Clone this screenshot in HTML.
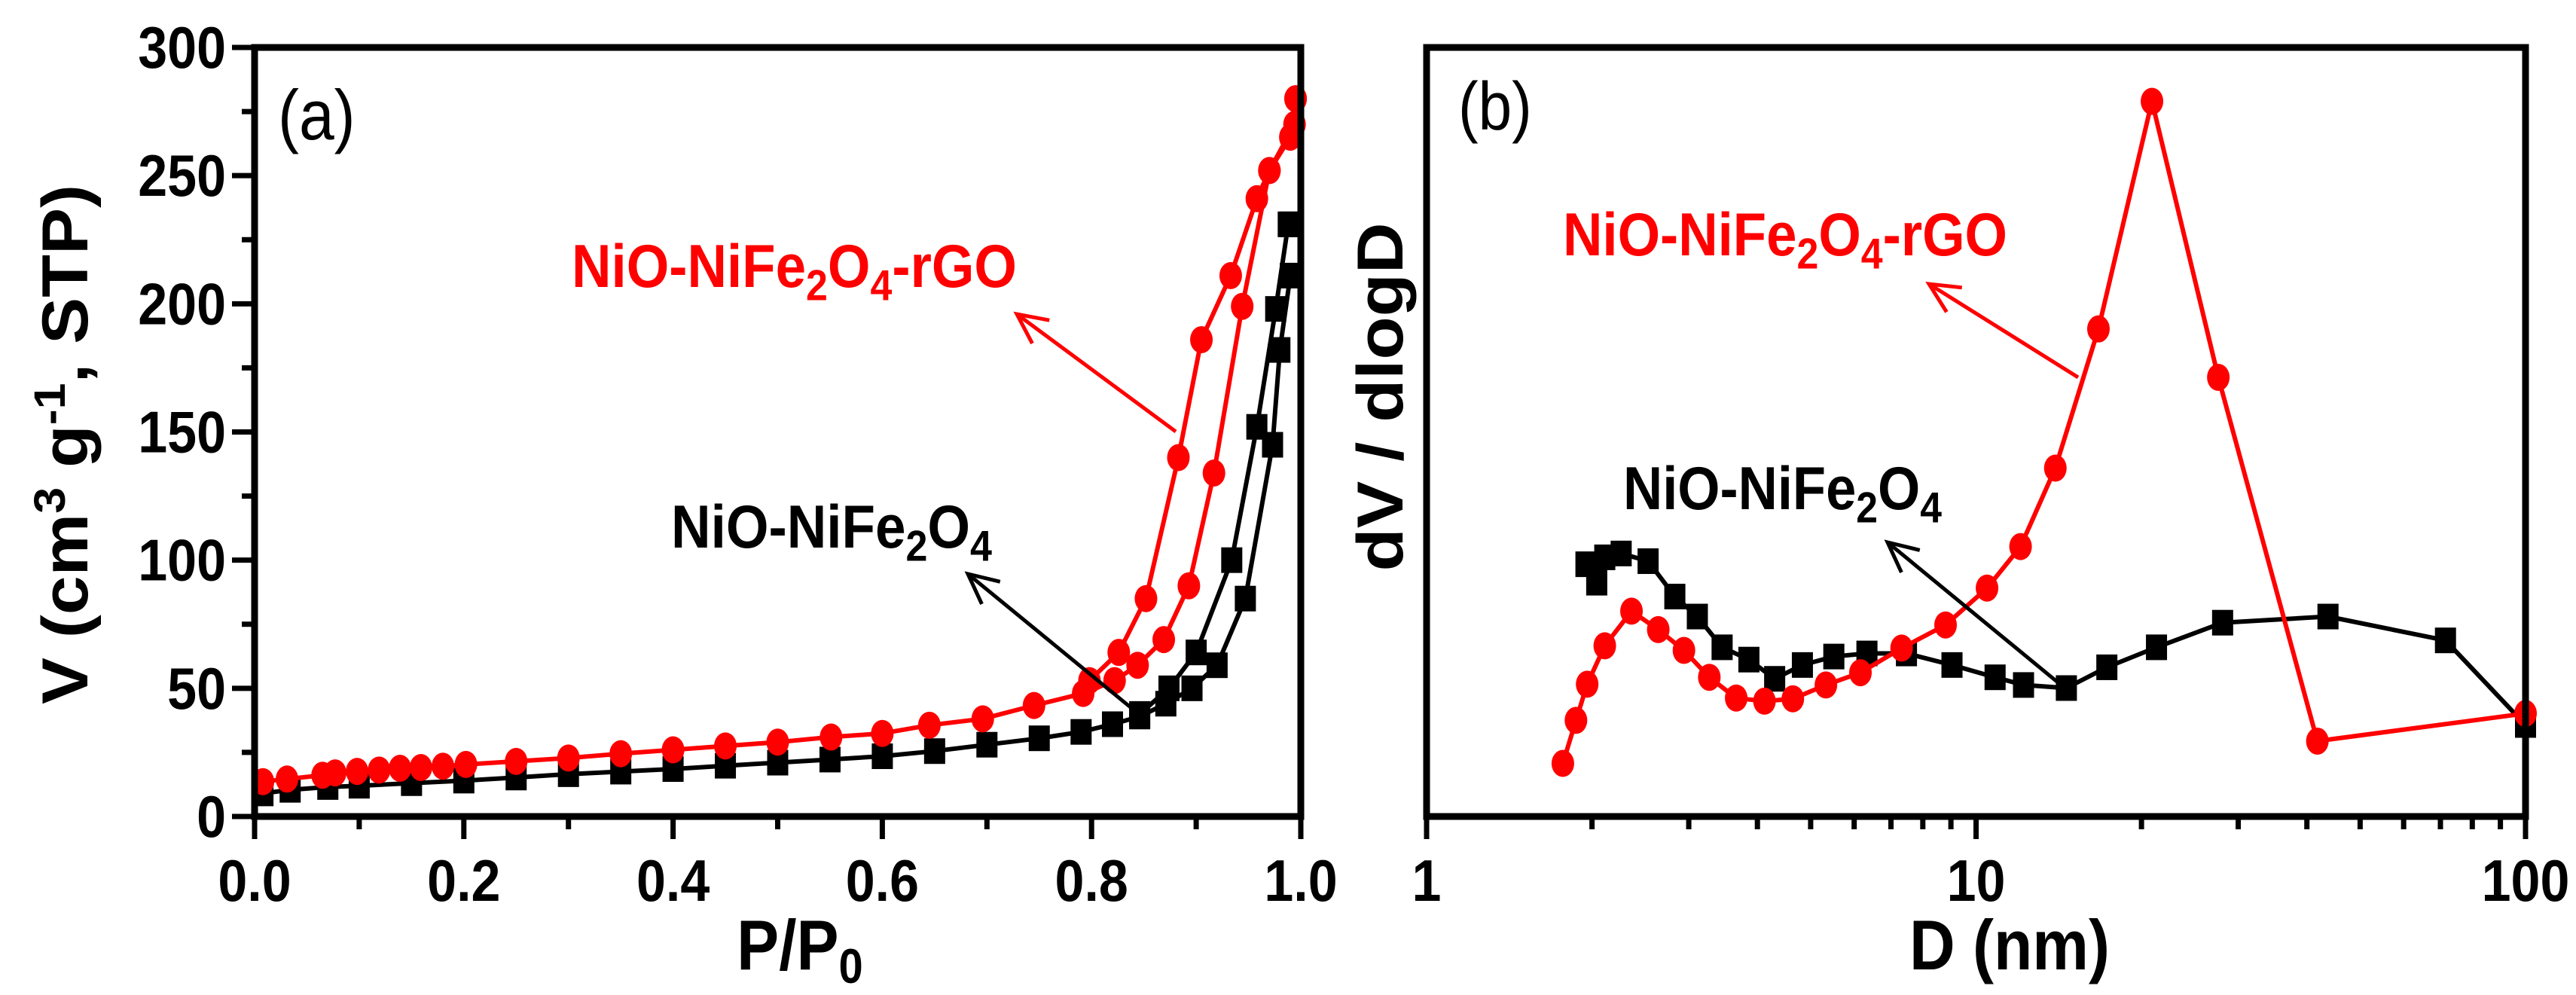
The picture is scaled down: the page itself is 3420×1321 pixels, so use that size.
<!DOCTYPE html>
<html><head><meta charset="utf-8"><style>
html,body{margin:0;padding:0;background:#fff}
svg{display:block}
text{font-family:"Liberation Sans",Arial,sans-serif}
</style></head><body>
<svg id="fig" xmlns="http://www.w3.org/2000/svg" width="3420" height="1321" viewBox="0 0 3420 1321">
<rect width="3420" height="1321" fill="#fff"/>
<g id="pa"></g>
<g id="pb"></g>
</svg>
<script>
// Panel (a) data: P/P0 and V
const aRedAdsP = [0.008,0.031,0.065,0.077,0.098,0.119,0.139,0.159,0.180,0.202,0.25,0.30,0.35,0.40,0.45,0.50,0.551,0.60,0.645,0.696,0.745,0.792,0.822,0.844,0.869,0.893,0.917,0.944,0.970,0.990,0.995];
const aRedAdsV = [13.6,14.6,16.1,17,17.6,18.1,18.8,19.1,19.6,20.3,21.5,22.8,24.5,26,27.5,29,31,32.4,35.6,38.1,43.3,48,53,59,69,90,134,199,252,265,280];
const aRedDesP = [0.995,0.994,0.970,0.958,0.933,0.905,0.883,0.852,0.826,0.798];
const aRedDesV = [280,270,252,241,211,186,140,85,64,53];
const aBlkAdsP = [0.008,0.034,0.07,0.1,0.15,0.2,0.25,0.3,0.35,0.4,0.45,0.5,0.55,0.6,0.65,0.7,0.75,0.79,0.82,0.846,0.871,0.896,0.92,0.947,0.973,0.98,0.99];
const aBlkAdsV = [9,10.4,11.5,12,13,14,15.2,16.5,17.5,18.5,19.8,21,22.2,23.5,25.5,28,30.5,33,36,39,44,50,59,85,145,182,211];
const aBlkDesP = [0.99,0.988,0.976,0.958,0.934,0.9,0.874,0.846];
const aBlkDesV = [231,231,198,152,100,64,50,40];
const aXTicks = ["0.0","0.2","0.4","0.6","0.8","1.0"];
const aYTicks = ["0","50","100","150","200","250","300"];
// Panel (b) data: D (nm) and dV/dlogD (arb.)
const bRedD = [1.77,1.87,1.96,2.11,2.36,2.64,2.94,3.27,3.66,4.12,4.64,5.33,6.16,7.32,8.80,10.47,12.05,13.94,16.7,20.9,27.6,41.8,100];
const bRedV = [6.9,12.5,17.2,22.2,26.7,24.3,21.6,18.1,15.4,15.0,15.3,17.1,18.7,21.9,24.9,29.7,35.1,45.3,63.4,93.0,57.1,9.8,13.4];
const bBlkD = [1.95,2.04,2.11,2.26,2.53,2.83,3.11,3.45,3.86,4.30,4.83,5.51,6.33,7.47,9.04,10.83,12.2,14.6,17.3,21.3,28.1,43.7,71.5,100];
const bBlkV = [32.8,30.4,33.7,34.2,33.2,28.6,26.0,22.0,20.4,17.9,19.7,20.8,21.2,21.2,19.7,18.1,17.1,16.7,19.4,22.0,25.2,26.0,22.9,11.9];
const bXTicks = ["1","10","100"];

const NS="http://www.w3.org/2000/svg";
function mk(parent,tag,attrs){const e=document.createElementNS(NS,tag);for(const k in attrs)e.setAttribute(k,attrs[k]);parent.appendChild(e);return e;}

const A={x0:338,x1:1727,y0:1084,y1:63};
const ax=p=>A.x0+(A.x1-A.x0)*p;
const ay=v=>A.y0-(A.y0-A.y1)*v/300;
const B={x0:1894,x1:3353,y0:1084,y1:63};
const bx=d=>B.x0+(B.x1-B.x0)*Math.log10(d)/2;
const by=v=>B.y0-(B.y0-B.y1)*v/100;

const pa=document.getElementById('pa');
const pb=document.getElementById('pb');

function series(g,xs,ys,fx,fy,color,shape,name){
  const pts=xs.map((x,i)=>fx(x).toFixed(1)+","+fy(ys[i]).toFixed(1)).join(" ");
  const ln=mk(g,'polyline',{points:pts,fill:'none',stroke:color,'stroke-width':6,'stroke-linejoin':'round'});
  
  
  xs.forEach((x,i)=>{
    let m;
    if(shape==='c'){m=mk(g,'ellipse',{cx:fx(x),cy:fy(ys[i]),rx:15,ry:18,fill:color});}
    else{m=mk(g,'rect',{x:fx(x)-14,y:fy(ys[i])-17,width:28,height:34,fill:color});}
    
    
  });
}

series(pa,aBlkAdsP,aBlkAdsV,ax,ay,'#000','s','black-adsorption');
series(pa,aBlkDesP,aBlkDesV,ax,ay,'#000','s','black-desorption');
series(pa,aRedAdsP,aRedAdsV,ax,ay,'#ff0000','c','red-adsorption');
series(pa,aRedDesP,aRedDesV,ax,ay,'#ff0000','c','red-desorption');
series(pb,bBlkD,bBlkV,bx,by,'#000','s','black-pore-distribution');
series(pb,bRedD,bRedV,bx,by,'#ff0000','c','red-pore-distribution');

const fa=mk(pa,'rect',{x:A.x0,y:A.y1,width:A.x1-A.x0,height:A.y0-A.y1,fill:'none',stroke:'#000','stroke-width':9});


const fb=mk(pb,'rect',{x:B.x0,y:B.y1,width:B.x1-B.x0,height:B.y0-B.y1,fill:'none',stroke:'#000','stroke-width':9});



function tick(g,x1,y1,x2,y2,name){const t=mk(g,'line',{x1:x1,y1:y1,x2:x2,y2:y2,stroke:'#000','stroke-width':7});
  
  }
function label(g,x,y,s,anchor,size,name){const t=mk(g,'text',{transform:`translate(${x},${y}) scale(1,1.12)`,'text-anchor':anchor,'font-size':size,'font-weight':'bold',fill:'#000'});t.textContent=s;
  
  return t;}

for(let i=0;i<=10;i++){const p=i/10;const major=i%2===0;tick(pa,ax(p),A.y0,ax(p),A.y0+(major?30:17),'x-tick-a');}
aXTicks.forEach((s,i)=>label(pa,ax(i*0.2),1196,s,'middle',70,'x-tick-label-a'));
for(let v=0;v<=300;v+=25){const major=v%50===0;tick(pa,A.x0,ay(v),A.x0-(major?30:17),ay(v),'y-tick-a');}
aYTicks.forEach((s,i)=>label(pa,300,ay(i*50)+27,s,'end',70,'y-tick-label-a'));

for(let dec=0;dec<2;dec++){for(let k=1;k<=9;k++){const d=k*Math.pow(10,dec);tick(pb,bx(d),B.y0,bx(d),B.y0+(k===1?30:17),'x-tick-b');}}
tick(pb,bx(100),B.y0,bx(100),B.y0+30,'x-tick-b');
bXTicks.forEach((s,i)=>label(pb,bx(Math.pow(10,i)),1196,s,'middle',70,'x-tick-label-b'));

function arrow(g,x1,y1,x2,y2,color,name){
  const l=mk(g,'line',{x1:x1,y1:y1,x2:x2,y2:y2,stroke:color,'stroke-width':5});
  
  
  const a=Math.atan2(y2-y1,x2-x1),L=44,w=0.45;
  const h=mk(g,'polyline',{points:`${x2-L*Math.cos(a-w)},${y2-L*Math.sin(a-w)} ${x2},${y2} ${x2-L*Math.cos(a+w)},${y2-L*Math.sin(a+w)}`,fill:'none',stroke:color,'stroke-width':5});
  
  
}
arrow(pa,1561,573,1350,417,'#ff0000','arrow-red-a');
arrow(pa,1507,944,1285,762,'#000','arrow-black-a');
arrow(pb,2759,501,2561,377,'#ff0000','arrow-red-b');
arrow(pb,2737,910,2506,720,'#000','arrow-black-b');
</script>
<svg style="position:absolute;left:0;top:0" width="3420" height="1321" viewBox="0 0 3420 1321">
<g font-family="Liberation Sans, Arial, sans-serif">
<text transform="translate(369,185) scale(1,1.12)" font-size="84">(a)</text>
<text transform="translate(1936,172) scale(1,1.12)" font-size="80">(b)</text>
<text transform="translate(116,590) rotate(-90)" text-anchor="middle" font-size="86" font-weight="bold" textLength="690" lengthAdjust="spacingAndGlyphs">V (cm<tspan dy="-30" font-size="58">3</tspan><tspan dy="30"> g</tspan><tspan dy="-30" font-size="58">-1</tspan><tspan dy="30">, STP)</tspan></text>
<text transform="translate(1062,1287) scale(1,1.12)" text-anchor="middle" font-size="84" font-weight="bold">P/P<tspan dy="16" font-size="58">0</tspan></text>
<text transform="translate(1862,527) rotate(-90)" text-anchor="middle" font-size="86" font-weight="bold" textLength="463" lengthAdjust="spacingAndGlyphs">dV / dlogD</text>
<text transform="translate(2668,1287) scale(1,1.12)" text-anchor="middle" font-size="84" font-weight="bold">D (nm)</text>
<text transform="translate(759,381) scale(1,1.15)" font-size="70" font-weight="bold" fill="#ff0000" textLength="591" lengthAdjust="spacingAndGlyphs">NiO-NiFe<tspan dy="15" font-size="50">2</tspan><tspan dy="-15">O</tspan><tspan dy="15" font-size="50">4</tspan><tspan dy="-15">-rGO</tspan></text>
<text transform="translate(891,727) scale(1,1.15)" font-size="70" font-weight="bold" fill="#000" textLength="426" lengthAdjust="spacingAndGlyphs">NiO-NiFe<tspan dy="15" font-size="50">2</tspan><tspan dy="-15">O</tspan><tspan dy="15" font-size="50">4</tspan></text>
<text transform="translate(2075,339) scale(1,1.15)" font-size="70" font-weight="bold" fill="#ff0000" textLength="590" lengthAdjust="spacingAndGlyphs">NiO-NiFe<tspan dy="15" font-size="50">2</tspan><tspan dy="-15">O</tspan><tspan dy="15" font-size="50">4</tspan><tspan dy="-15">-rGO</tspan></text>
<text transform="translate(2155,676) scale(1,1.15)" font-size="70" font-weight="bold" fill="#000" textLength="423" lengthAdjust="spacingAndGlyphs">NiO-NiFe<tspan dy="15" font-size="50">2</tspan><tspan dy="-15">O</tspan><tspan dy="15" font-size="50">4</tspan></text>
</g>
</svg>
</body></html>
